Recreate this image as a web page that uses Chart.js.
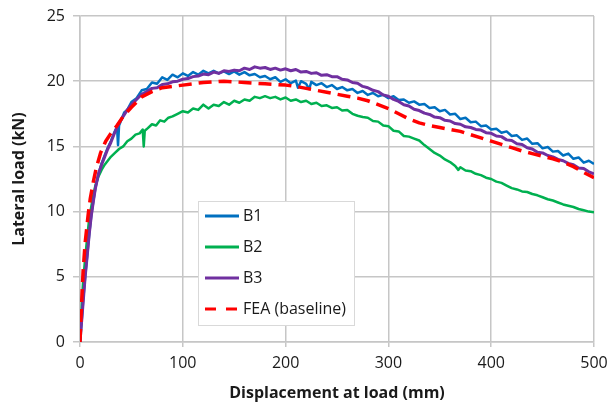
<!DOCTYPE html>
<html>
<head>
<meta charset="utf-8">
<title>Lateral load vs displacement</title>
<script src="https://cdn.jsdelivr.net/npm/chart.js@4.4.1/dist/chart.umd.min.js"></script>
<style>
  html, body { margin: 0; padding: 0; background: #fff; }
  #wrap { width: 609px; height: 407px; }
</style>
</head>
<body>
<div id="wrap"><canvas id="loadChart" width="609" height="407"></canvas></div>
<script>
// values (displacement in mm, load in kN)
const b1Disp = [0, 1, 2, 3, 5, 7, 9, 11, 13, 15, 18, 21, 24, 27, 30, 33, 36, 37, 38, 40, 43, 46, 50,
  55, 60, 65, 70, 75, 80, 85, 90, 95, 100, 105, 110, 115, 120, 125, 130, 135, 140, 145, 150, 155, 160,
  165, 170, 175, 180, 185, 190, 195, 200, 205, 210, 212, 215, 220, 223, 225,
  230, 235, 240, 245, 250, 255, 260, 265, 270, 275, 280, 285, 290, 295, 300, 305, 310, 315, 320, 325,
  330, 335, 340, 345, 350, 355, 360, 365, 370, 375, 380, 385, 390, 395, 400, 405, 410, 415, 420, 425,
  430, 435, 440, 445, 450, 455, 460, 465, 470, 475, 480, 485, 490, 495, 500];
const b1Load = [0, 1.0, 2.0, 3.1, 5.0, 6.6, 8.3, 9.7, 10.8, 11.8, 12.9, 13.7, 14.3, 14.9, 15.4, 16.0, 16.5, 15.1, 16.6, 17.0, 17.6, 17.8, 18.4,
  18.7, 19.3, 19.4, 19.9, 19.8, 20.3, 20.1, 20.5, 20.3, 20.6, 20.4, 20.7, 20.5, 20.8, 20.6, 20.8, 20.6, 20.75, 20.55, 20.75, 20.5, 20.7,
  20.45, 20.55, 20.3, 20.4, 20.15, 20.3, 19.95, 20.15, 19.85, 20.05, 19.5, 20.0, 19.8, 19.4, 19.95,
  19.7, 19.85, 19.55, 19.7, 19.4, 19.55, 19.3, 19.4, 19.1, 19.25, 18.95, 19.1, 18.85, 18.95, 18.7, 18.85, 18.55, 18.6, 18.35, 18.45,
  18.2, 18.25, 17.95, 18.0, 17.7, 17.8, 17.45, 17.5, 17.1, 17.2, 16.85, 16.9, 16.55, 16.6, 16.3, 16.35, 16.05, 16.15, 15.8, 15.85,
  15.5, 15.6, 15.2, 15.25, 14.85, 14.95, 14.6, 14.65, 14.3, 14.45, 14.05, 14.15, 13.75, 13.9, 13.65];

const b2Disp = [0, 1, 2, 3, 5, 7, 9, 11, 13, 15, 18, 21, 24, 27, 30, 34, 38, 42, 46, 50, 54, 58, 61, 62, 63, 66, 70, 74, 78, 82, 86, 90,
  95, 100, 105, 110, 115, 120, 125, 130, 135, 140, 145, 150, 155, 160, 165, 170, 175, 180, 185, 190, 195, 200,
  205, 210, 215, 220, 225, 230, 235, 240, 245, 250, 255, 260, 265, 270, 275, 280, 285, 290, 295, 300,
  305, 310, 315, 320, 325, 330, 335, 340, 345, 350, 355, 360, 365, 368,
  370, 375, 380, 385, 390, 395, 400, 405, 410, 415, 420, 425, 430, 435, 440, 445, 450, 455, 460, 465, 470, 475, 480, 485, 490, 495, 500];
const b2Load = [0, 1.6, 3.2, 4.6, 6.4, 8.0, 9.5, 10.4, 11.3, 12.0, 12.7, 13.2, 13.6, 13.9, 14.2, 14.5, 14.8, 15.0, 15.4, 15.6, 15.9, 16.0, 16.3, 15.0, 16.2, 16.4, 16.7, 16.6, 17.0, 16.9, 17.2, 17.3,
  17.5, 17.7, 17.6, 17.9, 17.8, 18.2, 17.9, 18.2, 18.1, 18.4, 18.2, 18.5, 18.35, 18.6, 18.5, 18.8, 18.7, 18.85, 18.7, 18.8, 18.6, 18.75,
  18.5, 18.6, 18.4, 18.5, 18.25, 18.35, 18.1, 18.15, 17.95, 18.0, 17.75, 17.8, 17.5, 17.35, 17.25, 17.2, 16.95, 16.9, 16.6, 16.55,
  16.2, 16.15, 15.8, 15.75, 15.6, 15.45, 15.1, 14.8, 14.5, 14.3, 14.0, 13.8, 13.5, 13.2,
  13.4, 13.15, 13.1, 12.9, 12.8, 12.6, 12.5, 12.3, 12.2, 12.0, 11.8, 11.7, 11.55, 11.5, 11.35, 11.25, 11.1, 10.95, 10.85, 10.7, 10.55, 10.45, 10.35, 10.2, 10.1, 10.0, 9.95];

const b3Disp = [0, 1, 2, 3, 5, 7, 9, 11, 13, 15, 18, 21, 24, 27, 30, 34, 38, 42, 46, 50,
  55, 60, 65, 70, 75, 80, 85, 90, 95, 100, 105, 110, 115, 120, 125, 130, 135, 140, 145, 150,
  155, 160, 165, 170, 175, 180, 185, 190, 195, 200, 205, 210, 215, 220, 225, 230, 235, 240, 245, 250,
  255, 260, 265, 270, 275, 280, 285, 290, 295, 300, 305, 310, 315, 320, 325, 330, 335, 340, 345, 350,
  355, 360, 365, 370, 375, 380, 385, 390, 395, 400, 405, 410, 415, 420, 425, 430, 435, 440, 445, 450,
  455, 460, 465, 470, 475, 480, 485, 490, 495, 500];
const b3Load = [0, 1.0, 2.0, 3.0, 5.0, 6.6, 8.3, 9.7, 10.8, 11.8, 12.9, 13.6, 14.2, 14.8, 15.3, 16.1, 16.8, 17.3, 17.8, 18.2,
  18.6, 19.0, 19.2, 19.45, 19.5, 19.75, 19.8, 19.95, 20.0, 20.15, 20.2, 20.35, 20.4, 20.55, 20.5, 20.7, 20.6, 20.8, 20.75, 20.85,
  20.8, 21.0, 20.9, 21.1, 21.0, 21.05, 20.9, 21.0, 20.85, 20.95, 20.8, 20.9, 20.7, 20.75, 20.6, 20.65, 20.45, 20.5, 20.35, 20.35,
  20.15, 20.1, 19.9, 19.85, 19.6, 19.5, 19.3, 19.2, 18.95, 18.85, 18.6, 18.45, 18.2, 18.1, 17.85, 17.75, 17.55, 17.45, 17.25, 17.2,
  17.0, 16.95, 16.75, 16.7, 16.5, 16.45, 16.3, 16.25, 16.05, 16.0, 15.8, 15.75, 15.5, 15.45, 15.2, 15.15, 14.9, 14.8, 14.55, 14.5,
  14.3, 14.2, 14.0, 13.9, 13.7, 13.6, 13.35, 13.3, 13.05, 12.9];

const feaDisp = [0, 1, 3, 5, 8, 10, 13, 16, 20, 25, 30, 36, 42, 50, 60, 70, 80, 90, 100, 120,
  140, 160, 180, 200, 210, 220, 230, 240, 250, 260, 270, 280, 290, 300, 310, 320, 330, 340, 350, 360,
  370, 380, 390, 400, 410, 420, 430, 440, 450, 460, 470, 480, 490, 500];
const feaLoad = [0, 2.0, 5.4, 7.6, 9.8, 11.0, 12.3, 13.4, 14.5, 15.4, 16.0, 16.6, 17.3, 18.0, 18.8, 19.2, 19.5, 19.6, 19.7, 19.9,
  20.0, 19.9, 19.8, 19.7, 19.6, 19.45, 19.3, 19.15, 19.0, 18.85, 18.7, 18.5, 18.2, 17.9, 17.5, 17.1, 16.8, 16.6, 16.45, 16.3,
  16.15, 15.9, 15.65, 15.4, 15.15, 14.9, 14.65, 14.45, 14.25, 14.05, 13.8, 13.45, 13.0, 12.6];

const yTicks = [0, 5, 10, 15, 20, 25];
const xTicks = [0, 100, 200, 300, 400, 500];

const gridColor = '#c6c6c6';
const textColor = '#1a1a1a';
const fontFamily = '"Open Sans", "DejaVu Sans", sans-serif';

function toPoints(xs, ys) {
  return xs.map((x, i) => ({ x: x, y: ys[i] }));
}

// legend box drawn inside the plot, like the spreadsheet original
const legendBox = {
  id: 'legendBox',
  afterDatasetsDraw(chart, args, opts) {
    const ctx = chart.ctx;
    ctx.save();
    ctx.fillStyle = '#fff';
    ctx.fillRect(opts.left, opts.top, opts.width, opts.height);
    ctx.strokeStyle = '#d9d9d9';
    ctx.lineWidth = 1;
    ctx.strokeRect(opts.left + 0.5, opts.top + 0.5, opts.width, opts.height);
    ctx.font = '16px ' + fontFamily;
    ctx.textBaseline = 'middle';
    ctx.textAlign = 'left';
    chart.data.datasets.forEach((ds, i) => {
      const y = opts.top + opts.firstRow + i * opts.rowGap;
      ctx.beginPath();
      ctx.strokeStyle = ds.borderColor;
      ctx.lineWidth = 3;
      ctx.setLineDash(ds.borderDash ? [11, 10] : []);
      ctx.moveTo(opts.left + 7, y);
      ctx.lineTo(opts.left + 41, y);
      ctx.stroke();
      ctx.setLineDash([]);
      ctx.fillStyle = textColor;
      ctx.fillText(ds.label, opts.left + 45, y);
    });
    ctx.restore();
  }
};

new Chart(document.getElementById('loadChart'), {
  type: 'line',
  data: {
    datasets: [
      { label: 'B1', data: toPoints(b1Disp, b1Load), borderColor: '#0070c0', borderWidth: 2.5, order: 2 },
      { label: 'B2', data: toPoints(b2Disp, b2Load), borderColor: '#00b050', borderWidth: 2.5, order: 3 },
      { label: 'B3', data: toPoints(b3Disp, b3Load), borderColor: '#7030a0', borderWidth: 3, order: 1 },
      { label: 'FEA (baseline)', data: toPoints(feaDisp, feaLoad), borderColor: '#ff0000', borderWidth: 3.5,
        borderDash: [13, 7], order: 0 }
    ]
  },
  options: {
    responsive: false,
    animation: false,
    events: [],
    layout: { padding: { top: 16, right: 15, left: 0, bottom: 0 } },
    elements: {
      point: { radius: 0 },
      line: { tension: 0, fill: false, borderCapStyle: 'butt', borderJoinStyle: 'round' }
    },
    plugins: {
      legend: { display: false },
      tooltip: { enabled: false },
      legendBox: { left: 198, top: 201, width: 156, height: 124, firstRow: 15, rowGap: 31 }
    },
    scales: {
      x: {
        type: 'linear',
        min: 0,
        max: 500,
        afterFit: s => { s.height = 65; s.paddingLeft = 0; s.paddingRight = 0; },
        afterBuildTicks: s => { s.ticks = xTicks.map(v => ({ value: v })); },
        grid: { color: gridColor, lineWidth: 1.5, tickLength: 5, tickColor: gridColor },
        border: { color: gridColor, width: 1.5 },
        ticks: { color: textColor, padding: 7, maxRotation: 0, font: { family: fontFamily, size: 16 } },
        title: {
          display: true,
          text: 'Displacement at load (mm)',
          color: textColor,
          padding: { top: 0, bottom: 4 },
          font: { family: fontFamily, size: 16, weight: 'bold' }
        }
      },
      y: {
        min: 0,
        max: 25,
        afterFit: s => { s.width = 80; s.paddingTop = 0; s.paddingBottom = 0; },
        afterBuildTicks: s => { s.ticks = yTicks.map(v => ({ value: v })); },
        grid: { color: gridColor, lineWidth: 1.5, tickLength: 7, tickColor: gridColor },
        border: { color: gridColor, width: 1.5 },
        ticks: { color: textColor, padding: 8, font: { family: fontFamily, size: 16 } },
        title: {
          display: true,
          text: 'Lateral load (kN)',
          color: textColor,
          padding: { top: 10, bottom: 0 },
          font: { family: fontFamily, size: 16, weight: 'bold' }
        }
      }
    }
  },
  plugins: [legendBox]
});
</script>
</body>
</html>
